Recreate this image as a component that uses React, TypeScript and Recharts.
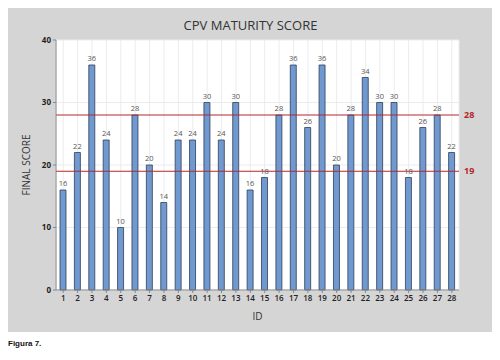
import * as React from "react";
import {
  Bar,
  BarChart,
  CartesianGrid,
  LabelList,
  ReferenceLine,
  XAxis,
  YAxis,
} from "recharts";

const ids = [
  "1", "2", "3", "4", "5", "6", "7", "8", "9", "10", "11", "12", "13", "14",
  "15", "16", "17", "18", "19", "20", "21", "22", "23", "24", "25", "26", "27", "28",
];
const scores = [
  16, 22, 36, 24, 10, 28, 20, 14, 24, 24, 30, 24, 30, 16,
  18, 28, 36, 26, 36, 20, 28, 34, 30, 30, 18, 26, 28, 22,
];
const yTicks = [0, 10, 20, 30, 40];
const thresholds = [28, 19];

const data = ids.map((id, i) => ({ id, score: scores[i] }));

const font = "'Open Sans', sans-serif";
const lineRed = "#b5262c";

export default function App() {
  return (
    <div style={{ fontFamily: font, width: 484 }}>
      <div style={{ background: "#d5d5d5", width: 485, height: 324, position: "relative" }}>
        <div
          style={{
            position: "absolute",
            top: 8,
            width: "100%",
            textAlign: "center",
            fontSize: 13,
            color: "#333",
          }}
        >
          CPV MATURITY SCORE
        </div>
        <BarChart
          width={485}
          height={324}
          data={data}
          margin={{ top: 32, right: 34, bottom: 8, left: 14 }}
          barCategoryGap={0}
        >
          <CartesianGrid stroke="#ececec" fill="#fff" />
          <XAxis
            dataKey="id"
            interval={0}
            tick={{ fill: "#222", fontSize: 8, fontWeight: 600 }}
            tickSize={3}
            axisLine={{ stroke: "#888" }}
            tickLine={{ stroke: "#888" }}
            height={34}
            label={{ value: "ID", position: "insideBottom", offset: 4, fill: "#333", fontSize: 10 }}
          />
          <YAxis
            domain={[0, 40]}
            ticks={yTicks}
            tick={{ fill: "#222", fontSize: 8, fontWeight: 700 }}
            tickSize={3}
            axisLine={{ stroke: "#888" }}
            tickLine={{ stroke: "#888" }}
            width={34}
            label={{
              value: "FINAL SCORE",
              angle: -90,
              position: "insideLeft",
              offset: 4,
              style: { textAnchor: "middle", fill: "#333", fontSize: 10 },
            }}
          />
          {thresholds.map((t) => (
            <ReferenceLine
              key={t}
              y={t}
              stroke={lineRed}
              strokeWidth={1}
              label={{ value: String(t), position: "right", fill: lineRed, fontSize: 9, fontWeight: 700 }}
            />
          ))}
          <Bar
            dataKey="score"
            fill="#7099d0"
            stroke="#2f3f5c"
            strokeWidth={0.8}
            barSize={6}
            isAnimationActive={false}
          >
            <LabelList dataKey="score" position="top" offset={4} fill="#555" fontSize={7.5} />
          </Bar>
        </BarChart>
      </div>
      <div style={{ fontSize: 8, fontWeight: 700, marginTop: 7, color: "#111", fontFamily: "Arial, sans-serif" }}>
        Figura 7.
      </div>
    </div>
  );
}
